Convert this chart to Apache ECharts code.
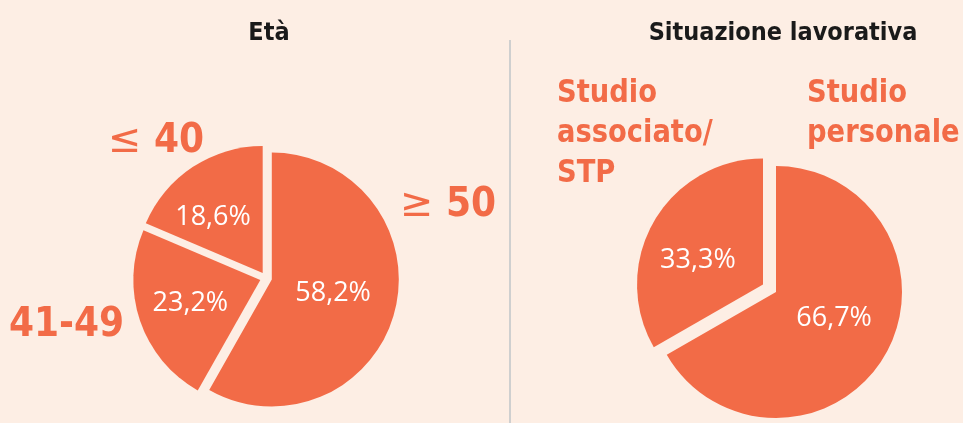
<!DOCTYPE html>
<html>
<head>
<meta charset="utf-8">
<style>
  html, body {margin:0;padding:0;background:#fdeee4;}
  #chart {width:963px;height:423px;}
</style>
</head>
<body>
<div id="chart"></div>
<script src="https://cdn.jsdelivr.net/npm/echarts@6/dist/echarts.min.js"></script>
<script>
// dati
var etaNames = ['≥ 50', '41-49', '≤ 40'];
var etaValues = [58.2, 23.2, 18.6];
var lavNames = ['Studio\npersonale', 'Studio\nassociato/\nSTP'];
var lavValues = [66.7, 33.3];
var titles = ['Età', 'Situazione lavorativa'];

var orange = '#f26b47';
var condensed = '"Liberation Sans Narrow", "DejaVu Sans Condensed", "Roboto", sans-serif';

// piccoli aggiustamenti delle etichette interne
var etaOffsets = [[-3, -3], [-7, 2], [-13, 0]];
var lavOffsets = [[1, -7], [-8, 9]];

function pct(p) {
    return p.value.toFixed(1).replace('.', ',') + '%';
}

var etaData = etaValues.map(function (v, i) {
    return {name: etaNames[i], value: v, selected: true,
        label: {offset: etaOffsets[i]}, select: {label: {offset: etaOffsets[i]}}};
});
var lavData = lavValues.map(function (v, i) {
    return {name: lavNames[i], value: v, selected: i === 1,
        label: {offset: lavOffsets[i]}, select: {label: {offset: lavOffsets[i]}}};
});

var pieLabel = {
    show: true,
    position: 'inside',
    formatter: pct,
    color: '#fff',
    fontSize: 27,
    fontFamily: '"Open Sans", sans-serif'
};

// etichette esterne grandi
function bigText(txt, x, y, size, sx) {
    var rich = txt.replace(/^([≤≥])\s*(.*)$/, '{s|$1} {b|$2}');
    var isRich = rich !== txt;
    return {
        type: 'text', x: x, y: y, scaleX: sx || 1,
        style: {
            text: isRich ? rich : txt,
            fill: orange, font: 'bold ' + size + 'px ' + condensed,
            lineHeight: 40,
            rich: {
                s: {fill: orange, font: 'normal ' + size + 'px "DejaVu Sans", sans-serif'},
                b: {fill: orange, font: 'bold ' + size + 'px ' + condensed}
            }
        }
    };
}

var option = {
    backgroundColor: '#fdeee4',
    animation: false,
    title: [
        {text: titles[0], left: 264, top: 16, textAlign: 'center',
         textStyle: {fontSize: 25, fontWeight: 'bold', color: '#1a1a1a', fontFamily: condensed}},
        {text: titles[1], left: 778, top: 16, textAlign: 'center',
         textStyle: {fontSize: 25, fontWeight: 'bold', color: '#1a1a1a', fontFamily: condensed}}
    ],
    graphic: [
        {type: 'line', shape: {x1: 510, y1: 40, x2: 510, y2: 423}, style: {stroke: '#cfcfcf', lineWidth: 2}},
        bigText(etaNames[2], 108, 122, 40),
        bigText(etaNames[0], 400, 186, 40),
        bigText(etaNames[1], 9, 306, 40),
        bigText(lavNames[1], 557, 74, 32, 0.95),
        bigText(lavNames[0], 807, 74, 32, 0.95)
    ],
    series: [
        {
            type: 'pie',
            center: [266, 278],
            radius: [0, 127],
            startAngle: 90,
            selectedMode: 'multiple',
            selectedOffset: 6,
            label: pieLabel,
            labelLine: {show: false},
            itemStyle: {color: orange},
            emphasis: {disabled: true},
            data: etaData
        },
        {
            type: 'pie',
            center: [776, 292],
            radius: [0, 126],
            startAngle: 90,
            selectedMode: 'single',
            selectedOffset: 15,
            label: pieLabel,
            labelLine: {show: false},
            itemStyle: {color: orange},
            emphasis: {disabled: true},
            data: lavData
        }
    ]
};

echarts.init(document.getElementById('chart')).setOption(option);
</script>
</body>
</html>
